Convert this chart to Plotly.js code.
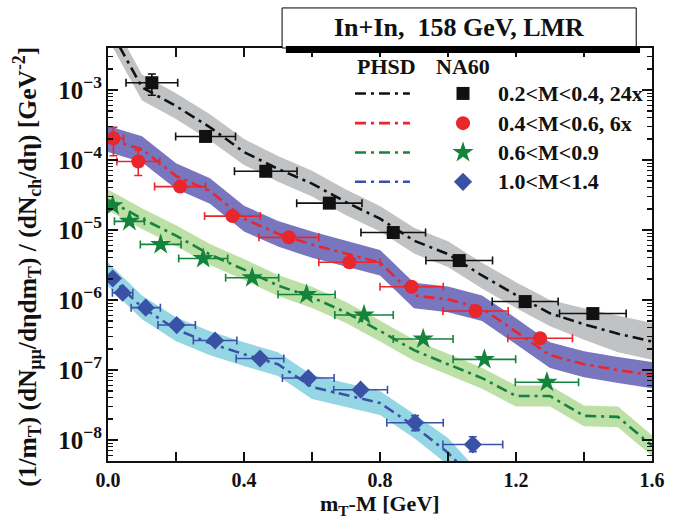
<!DOCTYPE html>
<html>
<head>
<meta charset="utf-8">
<script src="https://cdn.plot.ly/plotly-3.0.1.min.js"></script>
<style>html,body{margin:0;padding:0;background:#fff;}#chart{width:691px;height:525px;}</style>
</head>
<body>
<div id="chart"></div>
<script>
// ---------- PHSD theory (x grid in GeV) ----------
const thX = [0.0,0.1,0.2,0.3,0.4,0.5,0.6,0.7,0.8,0.9,1.0,1.1,1.2,1.3,1.4,1.5,1.6];
const blueX = [0.0,0.1,0.2,0.3,0.4,0.5,0.6,0.7,0.8,0.9,1.0,1.1];

const blackLine  = [8.3e-3,1.09e-3,5.9e-4,2.93e-4,1.30e-4,7.45e-5,4.6e-5,2.5e-5,1.45e-5,7.05e-6,4.53e-6,2.24e-6,1.18e-6,6.45e-7,4.5e-7,3.3e-7,2.55e-7];
const blackUpper = [1.27e-2,1.67e-3,9.0e-4,4.5e-4,2.0e-4,1.14e-4,7.0e-5,3.8e-5,2.2e-5,1.08e-5,6.9e-6,3.4e-6,1.8e-6,1.0e-6,7.6e-7,6.0e-7,4.7e-7];
const blackLower = [5.4e-3,7.1e-4,3.85e-4,1.9e-4,8.5e-5,4.9e-5,3.0e-5,1.63e-5,9.5e-6,4.6e-6,2.96e-6,1.46e-6,7.7e-7,4.2e-7,2.7e-7,1.8e-7,1.4e-7];

const redLine  = [1.99e-4,1.43e-4,5.9e-5,3.62e-5,1.45e-5,8.85e-6,6.18e-6,4.6e-6,3.43e-6,1.16e-6,1.02e-6,7.6e-7,3.57e-7,1.63e-7,1.21e-7,9.97e-8,8.46e-8];
const redUpper = [3.05e-4,2.19e-4,9.0e-5,5.5e-5,2.22e-5,1.35e-5,9.5e-6,7.0e-6,5.2e-6,1.77e-6,1.56e-6,1.16e-6,5.5e-7,2.5e-7,1.85e-7,1.53e-7,1.3e-7];
const redLower = [1.3e-4,9.3e-5,3.86e-5,2.37e-5,9.5e-6,5.8e-6,4.0e-6,3.0e-6,2.24e-6,7.6e-7,6.7e-7,5.0e-7,2.33e-7,1.07e-7,7.9e-8,6.5e-8,5.5e-8];

const greenLine  = [2.7e-5,1.45e-5,8.3e-6,4.46e-6,2.72e-6,1.61e-6,1.09e-6,6.66e-7,3.61e-7,1.92e-7,1.21e-7,7.67e-8,4.26e-8,4.26e-8,2.21e-8,2.14e-8,8.26e-9];
const greenUpper = [3.8e-5,2.05e-5,1.17e-5,6.3e-6,3.84e-6,2.27e-6,1.54e-6,9.4e-7,5.1e-7,2.7e-7,1.71e-7,1.08e-7,6.0e-8,6.0e-8,3.1e-8,3.0e-8,1.17e-8];
const greenLower = [1.91e-5,1.03e-5,5.9e-6,3.16e-6,1.93e-6,1.14e-6,7.7e-7,4.7e-7,2.56e-7,1.36e-7,8.6e-8,5.4e-8,3.0e-8,3.0e-8,1.57e-8,1.52e-8,5.9e-9];

const blueLine  = [2.31e-6,7.85e-7,3.82e-7,2.41e-7,1.68e-7,1.21e-7,5.71e-8,4.4e-8,3.38e-8,1.59e-8,6.57e-9,2.09e-9];
const blueUpper = [3.42e-6,1.16e-6,5.65e-7,3.57e-7,2.49e-7,1.79e-7,8.45e-8,6.5e-8,5.0e-8,2.35e-8,1.07e-8,3.1e-9];
const blueLower = [1.56e-6,5.3e-7,2.58e-7,1.63e-7,1.14e-7,8.2e-8,3.86e-8,2.97e-8,2.28e-8,1.07e-8,4.4e-9,1.41e-9];

// ---------- NA60 data ----------
const sqX = [0.129,0.287,0.464,0.651,0.839,1.033,1.227,1.426];
const sqY = [1.27e-3,2.17e-4,6.9e-5,2.42e-5,9.2e-6,3.66e-6,9.5e-7,6.4e-7];
const sqXerr = [0.076,0.088,0.092,0.096,0.095,0.098,0.097,0.098];
const sqYerrP = [4.2e-4,0,0,0,0,0,0,0];
const sqYerrM = [4.3e-4,0,0,0,0,0,0,0];

const ciX = [0.016,0.089,0.212,0.366,0.532,0.710,0.893,1.081,1.271];
const ciY = [2.04e-4,9.5e-5,4.17e-5,1.58e-5,7.85e-6,3.46e-6,1.55e-6,6.95e-7,2.84e-7];
const ciXerr = [0.03,0.063,0.075,0.082,0.088,0.09,0.093,0.096,0.095];
const ciYerrP = [8.8e-5,4.4e-5,0,0,0,0,0,0,0];
const ciYerrM = [8.9e-5,3.5e-5,0,0,0,0,0,0,0];

const stX = [0.014,0.063,0.155,0.280,0.424,0.584,0.753,0.927,1.107,1.291];
const stY = [2.22e-5,1.33e-5,6.23e-6,3.91e-6,2.08e-6,1.20e-6,6.1e-7,2.77e-7,1.42e-7,6.68e-8];
const stXerr = [0.012,0.044,0.06,0.072,0.078,0.084,0.086,0.088,0.092,0.093];

const diX = [0.014,0.043,0.111,0.202,0.315,0.447,0.589,0.743,0.903,1.073];
const diY = [2.03e-6,1.27e-6,7.77e-7,4.39e-7,2.64e-7,1.46e-7,7.67e-8,5.23e-8,1.76e-8,8.63e-9];
const diXerr = [0.008,0.03,0.043,0.055,0.064,0.07,0.076,0.079,0.083,0.088];
const diYerrP = [0,0,0,0,0,0,0,0,4.7e-9,2.5e-9];
const diYerrM = [0,0,0,0,0,0,0,0,4.0e-9,1.8e-9];

const legendLabels = ["0.2<M<0.4, 24x","0.4<M<0.6, 6x","0.6<M<0.9","1.0<M<1.4"];
const headerLabels = ["PHSD","NA60"];
const titleText = "In+In,  158 GeV, LMR";

// ---------- styles ----------
const C = {
  black:'#111111', red:'#e8262c', green:'#14833c', blue:'#3a52a6',
  bGray:'#c1c2c4', bPurple:'#7876be', bGreen:'#bde0a6', bCyan:'#95d6e4'
};
const DASH = '11px,5px,3px,5px';
const FONT = 'Liberation Serif, Times New Roman, serif';

function band(xs, up, lo, col){
  return {x: xs.concat(xs.slice().reverse()), y: up.concat(lo.slice().reverse()),
    type:'scatter', mode:'lines', fill:'toself', fillcolor:col, line:{width:0, color:col},
    hoverinfo:'skip', showlegend:false};
}
function line(xs, ys, col){
  return {x:xs, y:ys, type:'scatter', mode:'lines', line:{color:col, width:2.6, dash:DASH},
    hoverinfo:'skip', showlegend:false};
}
function pts(xs, ys, xe, yp, ym, col, sym, size){
  const t = {x:xs, y:ys, type:'scatter', mode:'markers', cliponaxis:true,
    marker:{symbol:sym, size:size, color:col, opacity:1, line:{width:0}},
    error_x:{type:'data', array:xe, color:col, thickness:1.6, width:4},
    showlegend:false};
  if (yp) t.error_y = {type:'data', symmetric:false, array:yp, arrayminus:ym, color:col, thickness:1.6, width:4};
  return t;
}

const traces = [
  band(thX, blackUpper, blackLower, C.bGray),
  band(thX, redUpper, redLower, C.bPurple),
  band(thX, greenUpper, greenLower, C.bGreen),
  band(blueX, blueUpper, blueLower, C.bCyan),
  line(thX, blackLine, C.black),
  line(thX, redLine, C.red),
  line(thX, greenLine, C.green),
  line(blueX, blueLine, C.blue),
  pts(sqX, sqY, sqXerr, sqYerrP, sqYerrM, C.black, 'square', 13),
  pts(ciX, ciY, ciXerr, ciYerrP, ciYerrM, C.red, 'circle', 14),
  pts(stX, stY, stXerr, null, null, C.green, 'star', 16),
  pts(diX, diY, diXerr, diYerrP, diYerrM, C.blue, 'diamond', 14)
];

// legend markers on an overlay axis in [0,1]
const legY = [0.890, 0.818, 0.747, 0.676];
const legCols = [C.black, C.red, C.green, C.blue];
const legSyms = ['square','circle','star','diamond'];
const legSizes = [13,14,16,14];
legY.forEach((yy,i)=>{
  traces.push({x:[0.6526], y:[yy], xaxis:'x2', yaxis:'y2', type:'scatter', mode:'markers',
    marker:{symbol:legSyms[i], color:legCols[i], size:legSizes[i], opacity:1},
    hoverinfo:'skip', showlegend:false, cliponaxis:false});
});

const shapes = [];
legY.forEach((yy,i)=>{
  shapes.push({type:'line', xref:'paper', yref:'paper', x0:0.454, x1:0.555, y0:yy, y1:yy,
    line:{color:legCols[i], width:2.6, dash:DASH}});
});
// title box + shadow
shapes.push({type:'rect', xref:'paper', yref:'paper', x0:0.320, x1:0.971, y0:1.0, y1:1.097,
  fillcolor:'#ffffff', line:{color:'#000', width:1}, layer:'above'});
shapes.push({type:'rect', xref:'paper', yref:'paper', x0:0.327, x1:0.978, y0:0.988, y1:1.005,
  fillcolor:'#000000', line:{width:0}, layer:'above'});

const lf = {family:FONT, size:22, color:'#111', weight:'bold'};
const annotations = [];
legendLabels.forEach((t,i)=>{
  annotations.push({xref:'paper', yref:'paper', x:0.713, y:legY[i], xanchor:'left', yanchor:'middle',
    text:t.replace(/</g,'&lt;'), showarrow:false, font:lf});
});
annotations.push({xref:'paper', yref:'paper', x:0.512, y:0.956, xanchor:'center', yanchor:'middle', text:headerLabels[0], showarrow:false, font:lf});
annotations.push({xref:'paper', yref:'paper', x:0.653, y:0.956, xanchor:'center', yanchor:'middle', text:headerLabels[1], showarrow:false, font:lf});
annotations.push({xref:'paper', yref:'paper', x:0.645, y:1.050, xanchor:'center', yanchor:'middle', text:titleText, showarrow:false,
  font:{family:FONT, size:26, color:'#111', weight:'bold'}});
annotations.push({xref:'paper', yref:'paper', x:-0.149, y:0.47, xanchor:'center', yanchor:'middle', textangle:-90, showarrow:false,
  text:'(1/m<sub>T</sub>) (dN<sub>μμ</sub>/dηdm<sub>T</sub>) / (dN<sub>ch</sub>/dη) [GeV<sup>-2</sup>]',
  font:{family:FONT, size:25.5, color:'#111', weight:'bold'}});
annotations.push({xref:'paper', yref:'paper', x:0.5, y:-0.107, xanchor:'center', yanchor:'middle', showarrow:false,
  text:'m<sub>T</sub>-M [GeV]', font:{family:FONT, size:22, color:'#111', weight:'bold'}});

const tf = {family:FONT, size:20, color:'#111', weight:'bold'};
const layout = {
  width:691, height:525,
  margin:{l:108, r:39, t:48, b:64},
  paper_bgcolor:'#fff', plot_bgcolor:'#fff',
  showlegend:false,
  xaxis:{range:[0,1.6], showgrid:false, zeroline:false, showline:true, linecolor:'#111', linewidth:2,
    mirror:'ticks', ticks:'inside', ticklen:9, tickwidth:1.5, tickcolor:'#111',
    tick0:0, dtick:0.4, tickformat:'.1f', tickfont:tf,
    minor:{dtick:0.2, ticks:'inside', ticklen:9, tickwidth:1.5, tickcolor:'#111', showgrid:false}},
  yaxis:{type:'log', range:[-8.3,-2.4], showgrid:false, zeroline:false, showline:true, linecolor:'#111', linewidth:2,
    mirror:'ticks', ticks:'inside', ticklen:10, tickwidth:1.5, tickcolor:'#111',
    dtick:1, exponentformat:'power', showexponent:'all', tickfont:tf,
    minor:{dtick:'D1', ticks:'inside', ticklen:5, tickwidth:1.2, tickcolor:'#111', showgrid:false}},
  xaxis2:{overlaying:'x', range:[0,1], visible:false, fixedrange:true},
  yaxis2:{overlaying:'y', range:[0,1], visible:false, fixedrange:true},
  shapes:shapes, annotations:annotations
};
Plotly.newPlot('chart', traces, layout, {staticPlot:true, displayModeBar:false});
</script>
</body>
</html>
